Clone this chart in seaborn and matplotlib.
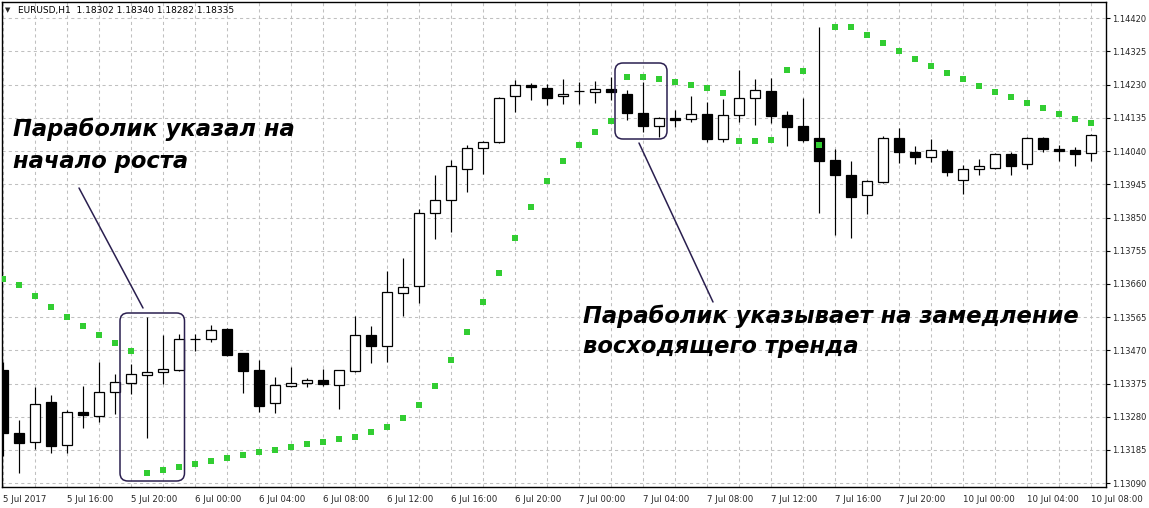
import numpy as np
import pandas as pd
import seaborn as sns
import matplotlib.pyplot as plt
from matplotlib.patches import FancyBboxPatch
from matplotlib.lines import Line2D
from matplotlib.transforms import IdentityTransform

# EURUSD H1, 5 Jul 12:00 .. 10 Jul 08:00 (weekend skipped)
open_ = [1.13414, 1.13233, 1.13207, 1.13321, 1.13198, 1.13293, 1.13283, 1.13350, 1.13376, 1.13399,
         1.13407, 1.13415, 1.13502, 1.13502, 1.13531, 1.13461, 1.13414, 1.13318, 1.13369, 1.13376,
         1.13384, 1.13372, 1.13412, 1.13513, 1.13483, 1.13635, 1.13653, 1.13862, 1.13901, 1.13988,
         1.14048, 1.14065, 1.14197, 1.14228, 1.14220, 1.14197, 1.14211, 1.14208, 1.14217, 1.14203,
         1.14149, 1.14111, 1.14135, 1.14131, 1.14146, 1.14074, 1.14143, 1.14191, 1.14211, 1.14143,
         1.14112, 1.14078, 1.14015, 1.13972, 1.13914, 1.13952, 1.14078, 1.14038, 1.14024, 1.14040,
         1.13957, 1.13988, 1.13993, 1.14032, 1.14002, 1.14077, 1.14046, 1.14042, 1.14034]
high = [1.13437, 1.13271, 1.13366, 1.13342, 1.13299, 1.13368, 1.13437, 1.13402, 1.13431, 1.13565,
        1.13514, 1.13517, 1.13517, 1.13542, 1.13533, 1.13462, 1.13442, 1.13393, 1.13422, 1.13391,
        1.13417, 1.13414, 1.13568, 1.13540, 1.13697, 1.13734, 1.13874, 1.13972, 1.14015, 1.14058,
        1.14070, 1.14194, 1.14244, 1.14234, 1.14232, 1.14246, 1.14238, 1.14241, 1.14252, 1.14215,
        1.14239, 1.14137, 1.14158, 1.14198, 1.14181, 1.14189, 1.14272, 1.14246, 1.14249, 1.14155,
        1.14192, 1.14396, 1.14045, 1.14012, 1.13957, 1.14083, 1.14106, 1.14055, 1.14075, 1.14046,
        1.14000, 1.14017, 1.14034, 1.14036, 1.14081, 1.14081, 1.14058, 1.14052, 1.14089]
low = [1.13169, 1.13118, 1.13188, 1.13175, 1.13175, 1.13249, 1.13266, 1.13288, 1.13345, 1.13220,
       1.13375, 1.13412, 1.13469, 1.13495, 1.13455, 1.13349, 1.13294, 1.13292, 1.13366, 1.13366,
       1.13368, 1.13303, 1.13409, 1.13435, 1.13437, 1.13569, 1.13606, 1.13788, 1.13809, 1.13924,
       1.13975, 1.14062, 1.14153, 1.14186, 1.14172, 1.14176, 1.14176, 1.14179, 1.14186, 1.14129,
       1.14096, 1.14080, 1.14110, 1.14124, 1.14067, 1.14067, 1.14124, 1.14116, 1.14121, 1.14055,
       1.14066, 1.13864, 1.13800, 1.13792, 1.13860, 1.13950, 1.14007, 1.14003, 1.14010, 1.13970,
       1.13918, 1.13972, 1.13990, 1.13972, 1.13989, 1.14038, 1.14013, 1.13998, 1.14013]
close = [1.13233, 1.13206, 1.13316, 1.13197, 1.13293, 1.13286, 1.13350, 1.13379, 1.13401, 1.13407,
         1.13416, 1.13502, 1.13502, 1.13527, 1.13457, 1.13412, 1.13312, 1.13370, 1.13376, 1.13384,
         1.13375, 1.13413, 1.13513, 1.13483, 1.13636, 1.13650, 1.13862, 1.13899, 1.13997, 1.14048,
         1.14065, 1.14191, 1.14228, 1.14223, 1.14193, 1.14203, 1.14211, 1.14217, 1.14210, 1.14150,
         1.14113, 1.14134, 1.14130, 1.14145, 1.14076, 1.14143, 1.14191, 1.14214, 1.14139, 1.14110,
         1.14073, 1.14013, 1.13973, 1.13910, 1.13954, 1.14078, 1.14036, 1.14024, 1.14042, 1.13981,
         1.13988, 1.13997, 1.14031, 1.13998, 1.14077, 1.14047, 1.14041, 1.14033, 1.14085]
# parabolic SAR
sar = [1.13674, 1.13656, 1.13625, 1.13593, 1.13565, 1.13539, 1.13513, 1.13490, 1.13467, 1.13118,
       1.13127, 1.13135, 1.13144, 1.13152, 1.13161, 1.13170, 1.13178, 1.13184, 1.13193, 1.13201,
       1.13207, 1.13215, 1.13221, 1.13235, 1.13250, 1.13276, 1.13313, 1.13367, 1.13441, 1.13522,
       1.13607, 1.13690, 1.13791, 1.13879, 1.13954, 1.14011, 1.14057, 1.14094, 1.14125, 1.14251,
       1.14251, 1.14246, 1.14237, 1.14228, 1.14220, 1.14205, 1.14068, 1.14068, 1.14071, 1.14271,
       1.14268, 1.14057, 1.14394, 1.14394, 1.14371, 1.14349, 1.14326, 1.14303, 1.14283, 1.14263,
       1.14246, 1.14226, 1.14208, 1.14194, 1.14177, 1.14163, 1.14145, 1.14131, 1.14120]

tick_pos = list(range(0, 69, 4))
tick_labels = ['5 Jul 2017', '5 Jul 16:00', '5 Jul 20:00', '6 Jul 00:00', '6 Jul 04:00',
               '6 Jul 08:00', '6 Jul 12:00', '6 Jul 16:00', '6 Jul 20:00', '7 Jul 00:00',
               '7 Jul 04:00', '7 Jul 08:00', '7 Jul 12:00', '7 Jul 16:00', '7 Jul 20:00',
               '10 Jul 00:00', '10 Jul 04:00', '10 Jul 08:00']
price_levels = [1.13090, 1.13185, 1.13280, 1.13375, 1.13470, 1.13565, 1.13660, 1.13755,
                1.13850, 1.13945, 1.14040, 1.14135, 1.14230, 1.14325, 1.14420]

df = pd.DataFrame({'i': np.arange(len(open_)), 'open': open_, 'high': high,
                   'low': low, 'close': close, 'sar': sar})

sns.set_style('white')
plt.rcParams['font.family'] = ['DejaVu Sans']

W, H = 1149, 508
fig = plt.figure(figsize=(W / 100, H / 100), dpi=100)
ax = fig.add_axes([2 / W, 21 / H, 1103.7 / W, 485 / H])

grid_kw = dict(color='#c0c0c0', lw=0.75, ls=(0, (3, 3)), zorder=0)
for p in price_levels:
    ax.axhline(p, **grid_kw)
for i in range(0, 69, 2):
    ax.axvline(i, **grid_kw)

# candles
up = df['close'] >= df['open']
ax.vlines(df['i'], df['low'], df['high'], color='black', lw=0.85, zorder=2)
ax.bar(df['i'], (df['close'] - df['open']).abs(), bottom=df[['open', 'close']].min(axis=1),
       width=0.58, color=np.where(up, 'white', 'black'), edgecolor='black', lw=0.9, zorder=3)

sns.scatterplot(data=df, x='i', y='sar', marker='s', s=13, color='#32cd32',
                linewidth=0, ax=ax, zorder=4)

ax.set_xlim(-0.0625, 68.92)
ax.set_ylim(1.130789, 1.144666)
ax.set_xlabel('')
ax.set_ylabel('')

ax.yaxis.tick_right()
ax.set_yticks(price_levels)
ax.set_yticklabels(['%.5f' % p for p in price_levels])
ax.set_xticks(tick_pos)
ax.set_xticklabels(tick_labels, ha='left')
ax.tick_params(axis='both', which='major', length=3, width=0.8, color='black',
               labelsize=6.2, direction='out')
ax.tick_params(axis='x', pad=3)
ax.tick_params(axis='y', left=False, right=True, pad=1.5, labelsize=6)
for s in ax.spines.values():
    s.set_color('black')
    s.set_linewidth(1.0)

# header
fig.text(5 / W, 1 - 10 / H, '\u25bc', fontsize=5, va='center', ha='left')
fig.text(18 / W, 1 - 10 / H, 'EURUSD,H1  1.18302 1.18340 1.18282 1.18335',
         fontsize=6.5, va='center', ha='left', color='black')

# annotations (pixel positions)
note_kw = dict(fontsize=16.3, fontweight='bold', fontstyle='italic', color='black',
               ha='left', va='baseline')
fig.text(13 / W, 1 - 136 / H, 'Параболик указал на', **note_kw)
fig.text(13 / W, 1 - 168 / H, 'начало роста', **note_kw)
fig.text(583 / W, 1 - 323 / H, 'Параболик указывает на замедление', **note_kw)
fig.text(583 / W, 1 - 353 / H, 'восходящего тренда', **note_kw)

navy = '#2a1f4f'
for (x1, y1, x2, y2) in [(79, 188, 143, 308), (639, 143, 713, 302)]:
    fig.add_artist(Line2D([x1, x2], [H - y1, H - y2], transform=IdentityTransform(),
                          color=navy, lw=1.1))
for (x0, y0, x1, y1) in [(120, 313, 184.5, 481), (615, 63, 667, 139)]:
    fig.add_artist(FancyBboxPatch((x0, H - y1), x1 - x0, y1 - y0,
                                  boxstyle='round,pad=0,rounding_size=8',
                                  transform=IdentityTransform(), fill=False,
                                  edgecolor=navy, lw=1.1))

fig.savefig('out.png', dpi=100, facecolor='white')
